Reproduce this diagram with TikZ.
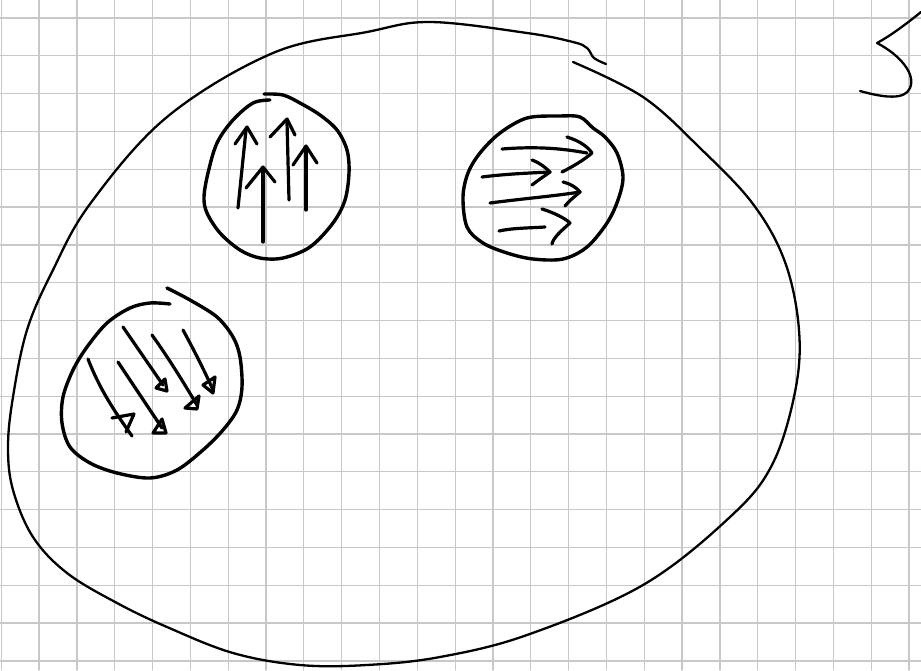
\documentclass[tikz,border=0pt]{standalone}
\definecolor{gridgray}{HTML}{C8C8C8}
\definecolor{ink}{HTML}{000000}

\begin{document}
\begin{tikzpicture}[x=1pt, y=-1pt, line cap=round, line join=round,
  gridline/.style={gridgray, line width=1.3pt},
  outline/.style={ink, line width=2.3pt},
  grain/.style={ink, line width=3.4pt},
  spin/.style={ink, line width=3.2pt}]

% Paper
\fill[white] (0,0) rectangle (921,670);
\useasboundingbox (0,0) rectangle (921,670);

% Grid
\foreach \i in {0,...,24}
  \draw[gridline] ({1.2+37.83*\i},0) -- ++(0,670);
\foreach \j in {0,...,17}
  \draw[gridline] (0,{18+37.82*\j}) -- ++(921,0);

% =========== Big outline ===========
\draw[outline] plot[smooth, tension=0.6] coordinates {
  (573,62) (643,97) (700,148) (753,204) (785,262) (799,330)
  (795,392) (772,465) (730,517) (643,585) (527,635) (440,657)
  (367,665) (300,665) (233,653) (167,627) (117,603) (67,573)
  (33,537) (13,490) (8,447) (13,397) (27,330) (52,272) (90,204)
  (167,117) (273,53) (367,32) (430,22) (527,33) (573,42)
  (587,48) (594,58) (606,64)};

% Squiggle top right
\draw[outline] (921,12) .. controls (905,25) and (890,36) .. (877,43)
  .. controls (900,55) and (916,74) .. (910,88)
  .. controls (905,100) and (885,98) .. (860,91);

% =========== Upper grain: arrows up ===========
\draw[grain] plot[smooth, tension=0.55] coordinates {
  (264,94) (283,95) (300,103) (320,115) (337,130) (347,150) (349,173)
  (345,200) (333,223) (310,247) (283,258) (260,258) (240,250) (220,233)
  (207,213) (204,197) (208,173) (217,143) (233,120) (253,103) (270,100)};

\draw[spin] (238,208) -- (246,130);
\draw[spin] (235,144) -- (247,127) -- (257,144);
\draw[spin] (289,200) -- (287,122);
\draw[spin] (270,137) -- (287,119) -- (295,135);
\draw[spin] (306,210) -- (306,149);
\draw[spin] (293,165) -- (306,146) -- (317,163);
\draw[spin] (263,242) -- (263,170);
\draw[spin] (246,188) -- (263,167) -- (275,182);

% =========== Right grain: arrows right ===========
\draw[grain] plot[smooth cycle, tension=0.55] coordinates {
  (527,118) (560,116) (580,117) (593,128) (605,137) (617,153) (623,177)
  (618,200) (607,223) (587,247) (563,259) (533,259) (507,253) (483,243)
  (467,227) (463,197) (468,173) (480,153) (500,133)};

\draw[spin] (502,149) .. controls (540,146) and (565,149) .. (587,153);
\draw[spin] (567,137) .. controls (580,141) and (588,147) .. (592,153)
  .. controls (584,160) and (572,167) .. (562,172);
\draw[spin] (482,177) .. controls (505,174) and (530,173) .. (550,172);
\draw[spin] (532,160) .. controls (540,163) and (546,168) .. (550,172)
  .. controls (543,177) and (537,181) .. (532,185);
\draw[spin] (490,203) .. controls (520,199) and (555,196) .. (580,192);
\draw[spin] (563,182) .. controls (571,184) and (577,188) .. (580,192)
  .. controls (574,197) and (569,201) .. (565,206);
\draw[spin] (499,231) .. controls (512,228) and (530,228) .. (545,227);
\draw[spin] (542,209) .. controls (555,213) and (566,219) .. (570,223)
  .. controls (562,230) and (553,238) .. (552,244);

% =========== Left grain: arrows down-right ===========
\draw[grain] plot[smooth, tension=0.55] coordinates {
  (167,288) (190,300) (217,317) (233,337) (240,357) (242,387) (237,410)
  (223,430) (203,450) (177,470) (150,478) (117,473) (90,463) (70,447)
  (62,423) (63,397) (73,370) (87,347) (107,323) (130,308) (150,303)
  (170,304)};

\draw[spin] (88,359) .. controls (100,390) and (115,412) .. (132,436);
\draw[spin] (112,418) -- (134,414) -- (126,432);
\draw[spin] (118,362) -- (162,428);
\draw[spin] (153,433) -- (166,433) -- (162,419) -- cycle;
\draw[spin] (123,327) -- (163,385);
\draw[spin] (156,388) -- (167,391) -- (165,379) -- cycle;
\draw[spin] (152,335) .. controls (170,360) and (185,385) .. (197,405);
\draw[spin] (185,408) -- (199,396) -- (197,409) -- cycle;
\draw[spin] (183,330) .. controls (195,352) and (205,372) .. (213,390);
\draw[spin] (203,385) -- (215,377) -- (213,393) -- cycle;

\end{tikzpicture}
\end{document}
